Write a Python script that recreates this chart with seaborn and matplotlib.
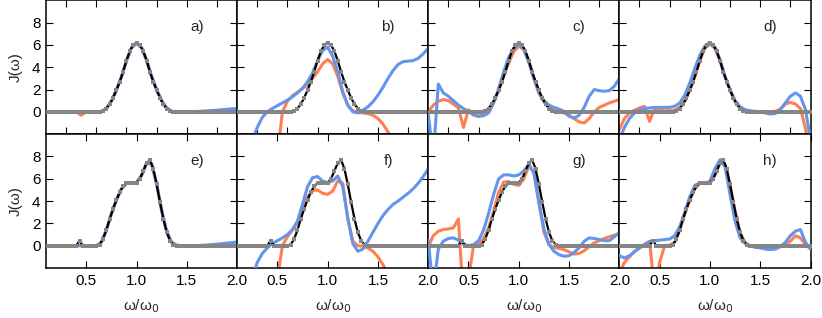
import numpy as np
import matplotlib
matplotlib.use("Agg")
import matplotlib.pyplot as plt
import seaborn as sns

# ---------------- data ----------------
# fine frequency grid for the exact spectral density (grey squares + black line)
OMEGA_FINE = np.linspace(0.1, 2.0, 58)
# coarse frequency grid for reconstructed curves
OMEGA = np.linspace(0.1, 2.0, 39)

EXACT_TOP = [0] * 17 + [0.08, 0.3, 0.7, 1.25, 1.95, 2.7, 3.6, 4.6, 5.45, 6.0, 6.2,
                        6.0, 5.45, 4.6, 3.6, 2.7, 1.95, 1.25, 0.7, 0.3, 0.08] + [0] * 20
EXACT_BOT = [0] * 10 + [0.45] + [0] * 5 + [0.1, 0.6, 1.4, 2.4, 3.3, 4.1, 4.8, 5.35, 5.6, 5.65,
                                          5.6, 5.65, 6.0, 6.7, 7.4, 7.7, 6.9, 5.5, 3.9, 2.4,
                                          1.2, 0.45, 0.1] + [0] * 19

BLUE_A = [0] * 11 + [0.02, 0.3, 0.95, 1.95, 3.15, 4.6, 5.75, 6.15, 5.75, 4.65, 3.2, 2.0, 1.0,
                     0.35, 0.05, 0, 0, 0, 0.01, 0.03, 0.06, 0.09, 0.12, 0.15, 0.19, 0.23, 0.27, 0.3]
ORANGE_A = [0] * 7 + [-0.3] + [0] * 3 + [0.02, 0.3, 0.95, 1.95, 3.15, 4.6, 5.75, 6.15, 5.75, 4.6,
                                          3.15, 1.95, 0.95, 0.3, 0.05] + [0] * 13

BLUE_B = [-8, -6, -4, -2.6, -1.4, -0.5, 0.0, 0.3, 0.55, 0.8, 1.05, 1.35, 1.7, 2.1, 2.7, 3.5,
          4.6, 5.5, 5.8, 5.0, 3.6, 1.8, 0.6, 0.0, -0.1, 0.15, 0.45, 0.9, 1.5, 2.2, 3.0, 3.7,
          4.25, 4.5, 4.55, 4.6, 4.8, 5.2, 5.7]
ORANGE_B = [-30, -26, -22, -18, -15, -12, -9, -6.5, -4, 0.0, 0.95, 1.45, 1.75, 2.1, 2.45, 3.0,
            3.6, 4.3, 4.7, 4.3, 3.2, 1.7, 0.6, 0.1, -0.05, -0.1, -0.15, -0.3, -0.6, -1.1, -1.8,
            -2.6, -4, -6, -8, -10, -12, -14, -16]

BLUE_C = [-0.2, -4, 2.5, 1.7, 1.4, 1.0, 0.6, 0.3, 0.0, -0.25, -0.4, -0.35, -0.1, 0.8, 2.1, 3.6,
          4.9, 5.7, 6.1, 5.6, 4.4, 3.0, 1.7, 1.0, 0.6, 0.4, 0.25, 0.05, -0.4, -0.55, -0.3, 0.4,
          1.4, 2.0, 1.9, 1.85, 1.9, 2.3, 3.0]
ORANGE_C = [0.0, 0.6, 0.95, 1.1, 1.0, 0.7, 0.35, -1.4, 0.2, -0.3, -0.4, -0.2, 0.3, 0.9, 1.9, 3.2,
            4.4, 5.4, 5.9, 5.6, 4.5, 3.0, 1.7, 0.9, 0.45, 0.25, 0.1, -0.1, -0.3, -0.6, -0.9,
            -1.0, -0.6, 0.0, 0.4, 0.6, 0.8, 0.95, 1.1]

BLUE_D = [-2.5, -1.4, -0.6, -0.1, 0.2, 0.3, 0.35, 0.4, 0.4, 0.4, 0.4, 0.5, 0.8, 1.5, 2.6, 3.9,
          5.1, 5.9, 6.2, 5.8, 4.7, 3.2, 2.0, 1.0, 0.45, 0.2, 0.1, 0.05, 0.0, -0.1, -0.2, -0.15,
          0.2, 0.8, 1.4, 1.7, 1.4, 0.2, -2.5]
ORANGE_D = [-1.6, -0.6, -0.1, 0.15, 0.35, 0.5, -0.85, 0.3, 0.15, 0.1, 0.1, 0.15, 0.4, 0.95, 1.95,
            3.15, 4.6, 5.7, 6.1, 5.7, 4.6, 3.15, 1.95, 0.95, 0.3, 0.05, 0, 0, 0, 0, 0, 0.05,
            0.25, 0.7, 0.85, 0.7, 0.3, -1.5, -4]

BLUE_E = [0] * 11 + [0.3, 1.4, 2.85, 4.1, 5.1, 5.6, 5.6, 5.65, 6.3, 7.4, 7.35, 5.55, 3.2, 1.3,
                     0.3, 0.05, 0, 0, 0, 0.01, 0.03, 0.06, 0.1, 0.14, 0.18, 0.23, 0.28, 0.33]
ORANGE_E = [0] * 11 + [0.3, 1.4, 2.85, 4.1, 5.1, 5.6, 5.6, 5.65, 6.3, 7.4, 7.3, 5.5, 3.1, 1.2,
                       0.25, 0.0] + [0] * 12

BLUE_F = [-9, -7, -5, -3, -1.5, -0.7, -0.2, 0.2, 0.45, 0.7, 1.0, 1.45, 2.2, 3.7, 5.3, 6.1, 6.2,
          5.8, 5.65, 5.8, 6.25, 5.3, 2.5, 0.2, -0.5, -0.3, 0.4, 1.2, 2.0, 2.7, 3.25, 3.7, 4.0,
          4.35, 4.7, 5.1, 5.6, 6.2, 6.9]
ORANGE_F = [-30, -26, -22, -18, -15, -12, -9, -6, -3, 0.0, 0.8, 1.4, 2.1, 3.3, 4.4, 4.95, 5.0,
            4.7, 4.6, 4.9, 5.8, 5.6, 2.4, 0.4, 0.0, -0.05, -0.2, -0.5, -1.0, -1.7, -2.6, -4,
            -6, -8, -10, -12, -14, -16, -18]

BLUE_G = [0.5, -4, -0.3, 0.4, 0.65, 0.7, 0.5, 0.15, 0.0, 0.1, 0.45, 1.4, 2.9, 4.6, 6.0, 6.35,
          6.35, 6.25, 6.35, 6.7, 7.3, 6.5, 3.8, 1.5, 0.1, -0.5, -0.8, -0.95, -0.9, -0.6, -0.2,
          0.4, 0.7, 0.65, 0.55, 0.45, 0.45, 0.8, 1.2]
ORANGE_G = [-0.1, 0.9, 1.3, 1.45, 1.5, 1.6, 2.4, -5, -3, 0.0, 0.2, 0.6, 1.6, 3.1, 4.8, 5.7, 5.75,
            5.5, 5.4, 6.0, 7.1, 6.7, 4.0, 1.2, 0.1, -0.15, -0.25, -0.35, -0.55, -0.75, -0.7,
            -0.45, -0.1, 0.25, 0.45, 0.65, 0.8, 0.95, 1.0]

BLUE_H = [-0.9, -1.1, -0.9, -0.55, -0.2, 0.1, 0.35, 0.45, 0.5, 0.55, 0.6, 0.9, 1.7, 3.0, 4.4,
          5.4, 5.65, 5.55, 5.8, 6.9, 7.7, 7.1, 4.6, 2.2, 0.7, 0.2, 0.0, -0.15, -0.2, -0.3,
          -0.35, -0.3, -0.1, 0.3, 0.9, 1.3, 1.45, 0.3, -0.3]
ORANGE_H = [-2.5, -1.5, -1.0, -0.5, -0.2, 0.1, 0.4, -4, -1.5, 0.0, 0.05, 0.3, 1.4, 2.85, 4.1,
            5.1, 5.6, 5.6, 5.65, 6.3, 7.4, 7.3, 5.5, 3.1, 1.2, 0.25, 0.0, 0, 0, 0, 0, 0, 0,
            0.1, 0.4, 0.9, 0.7, 0.1, -0.3]

PANEL_LABELS = ["a)", "b)", "c)", "d)", "e)", "f)", "g)", "h)"]
YTICKS = [0, 2, 4, 6, 8]
XTICKS_TOP = [0.3, 0.6, 0.9, 1.2, 1.5, 1.8]
XTICKS_BOT = [0.5, 1.0, 1.5, 2.0]
XTICKLABELS_BOT = ["0.5", "1.0", "1.5", "2.0"]

BLUE = "#6495ED"
ORANGE = "#FF7F50"
GREY = "#858585"

# ---------------- plot ----------------
sns.set_style("ticks")
plt.rcParams["font.family"] = ["Liberation Sans", "DejaVu Sans"]
plt.rcParams["font.size"] = 11

fig = plt.figure(figsize=(8.22, 3.18), dpi=100)
gs = fig.add_gridspec(2, 4, left=46 / 822, right=810.5 / 822, top=0.999, bottom=1 - 268 / 318,
                      wspace=0, hspace=0)

blues = [BLUE_A, BLUE_B, BLUE_C, BLUE_D, BLUE_E, BLUE_F, BLUE_G, BLUE_H]
oranges = [ORANGE_A, ORANGE_B, ORANGE_C, ORANGE_D, ORANGE_E, ORANGE_F, ORANGE_G, ORANGE_H]

for i in range(8):
    row, col = divmod(i, 4)
    ax = fig.add_subplot(gs[row, col])
    exact = EXACT_TOP if row == 0 else EXACT_BOT
    sns.lineplot(x=OMEGA, y=oranges[i], color=ORANGE, lw=2.2, ax=ax, sort=False,
                 estimator=None, zorder=2)
    sns.lineplot(x=OMEGA, y=blues[i], color=BLUE, lw=2.2, ax=ax, sort=False,
                 estimator=None, zorder=3)
    sns.lineplot(x=OMEGA_FINE, y=exact, color="black", lw=1.6, ax=ax, sort=False,
                 estimator=None, zorder=4)
    sns.scatterplot(x=OMEGA_FINE, y=exact, marker="s", s=6, color=GREY, linewidth=0,
                    ax=ax, zorder=5)
    ax.set_xlim(0.1, 2.0)
    ax.set_ylim(-2, 10)
    ax.set_yticks(YTICKS)
    if row == 0:
        ax.set_xticks(XTICKS_TOP)
        ax.set_xticklabels([])
        ax.set_xlabel("")
    else:
        ax.set_xticks(XTICKS_BOT)
        ax.set_xticklabels(XTICKLABELS_BOT)
        ax.set_xlabel("ω/ω$_0$", fontsize=11, labelpad=7)
    if col == 0:
        ax.set_yticklabels([str(t) for t in YTICKS])
        ax.set_ylabel("J(ω)", fontsize=11, labelpad=7)
    else:
        ax.set_yticklabels([])
        ax.set_ylabel("")
    ax.tick_params(direction="in", top=True, right=True, length=5, width=0.8,
                   labelsize=11, pad=4, colors="black")
    for sp in ax.spines.values():
        sp.set_linewidth(1.1)
        sp.set_color("black")
    ax.text(1.6, 7.6, PANEL_LABELS[i], ha="center", va="center", fontsize=11)

fig.savefig("out.png", dpi=100)
